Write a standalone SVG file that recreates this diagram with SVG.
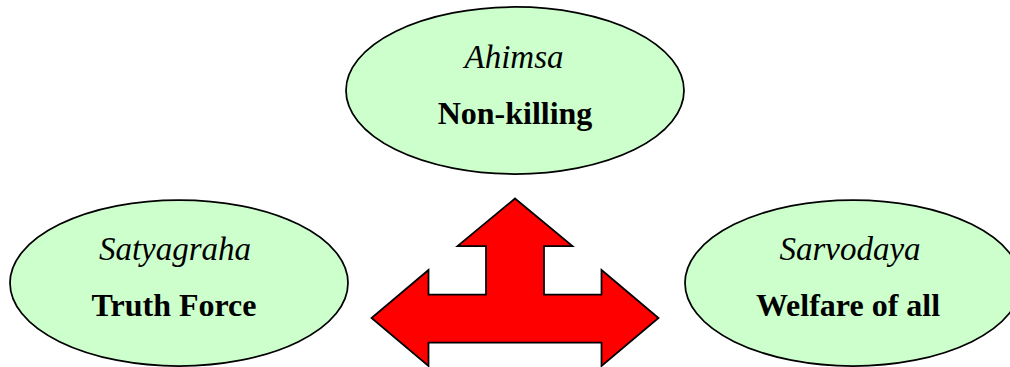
<svg xmlns="http://www.w3.org/2000/svg" width="1010" height="367" viewBox="0 0 1010 367">
<style>
.node ellipse{fill:#CCFFCC;stroke:#000;stroke-width:1.75}
.t1{font-family:"Liberation Serif","Times New Roman",serif;font-style:italic;font-size:33px;text-anchor:middle;fill:#000}
.t2{font-family:"Liberation Serif","Times New Roman",serif;font-weight:bold;font-size:32px;text-anchor:middle;fill:#000}
</style>
<rect width="1010" height="367" fill="#fff"/>
<g id="connectors">
<path d="M515,198.5 L572.5,246 L544,246 L544,294.5 L601.5,294.5 L601.5,270 L658.5,318 L601.5,366 L601.5,342.5 L428.5,342.5 L428.5,366 L371.5,318 L428.5,270 L428.5,294.5 L486,294.5 L486,246 L457.5,246 Z" fill="#FF0000" stroke="#000" stroke-width="1.75" stroke-linejoin="miter"/>
</g>
<g id="ahimsa" class="node">
<ellipse cx="515" cy="90.5" rx="169" ry="83.5"/>
<text class="t1" x="514" y="68">Ahimsa</text>
<text class="t2" x="515" y="124">Non-killing</text>
</g>
<g id="satyagraha" class="node">
<ellipse cx="179" cy="283" rx="169" ry="83"/>
<text class="t1" x="175" y="260">Satyagraha</text>
<text class="t2" x="174" y="316">Truth Force</text>
</g>
<g id="sarvodaya" class="node">
<ellipse cx="853" cy="283" rx="168" ry="83"/>
<text class="t1" x="850" y="260">Sarvodaya</text>
<text class="t2" x="848" y="316">Welfare of all</text>
</g>
</svg>
